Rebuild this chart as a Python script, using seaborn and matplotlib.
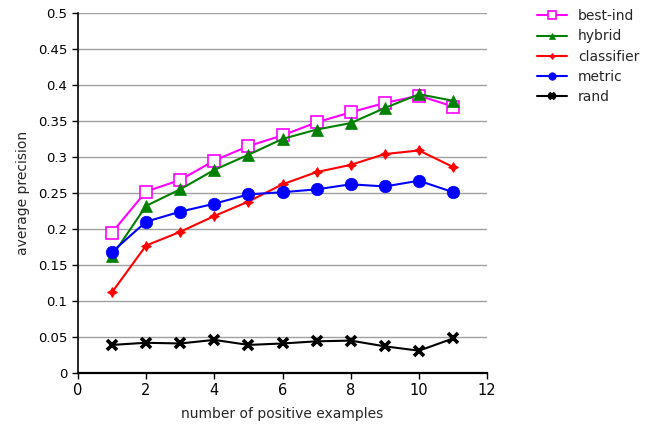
import pandas as pd
import matplotlib
matplotlib.use("Agg")
import matplotlib.pyplot as plt
import seaborn as sns

# Data
examples = [1, 2, 3, 4, 5, 6, 7, 8, 9, 10, 11]
best_ind = [0.195, 0.252, 0.268, 0.295, 0.315, 0.330, 0.348, 0.362, 0.375, 0.385, 0.370]
hybrid = [0.162, 0.232, 0.255, 0.282, 0.303, 0.325, 0.338, 0.347, 0.368, 0.387, 0.378]
classifier = [0.112, 0.177, 0.196, 0.218, 0.238, 0.262, 0.279, 0.289, 0.304, 0.309, 0.286]
metric = [0.168, 0.210, 0.224, 0.235, 0.248, 0.251, 0.255, 0.262, 0.259, 0.267, 0.251]
rand = [0.039, 0.042, 0.041, 0.046, 0.039, 0.041, 0.044, 0.045, 0.037, 0.031, 0.048]

series = {
    'best-ind': best_ind,
    'hybrid': hybrid,
    'classifier': classifier,
    'metric': metric,
    'rand': rand,
}
rows = []
for name, vals in series.items():
    for x, v in zip(examples, vals):
        rows.append({'examples': x, 'precision': v, 'method': name})
df = pd.DataFrame(rows)

sns.set_style('white')
plt.rcParams['font.family'] = ['DejaVu Sans']

fig = plt.figure(figsize=(6.54, 4.29), dpi=100)
ax = fig.add_axes([0.119, 0.1305, 0.626, 0.8395])

palette = {'best-ind': '#ff00ff', 'hybrid': '#008000', 'classifier': '#ff0000',
           'metric': '#0000ff', 'rand': '#000000'}
markers = {'best-ind': 's', 'hybrid': '^', 'classifier': (4, 1, 0),
           'metric': 'o', 'rand': 'x'}
sizes = {'best-ind': 9, 'hybrid': 8, 'classifier': 7, 'metric': 9, 'rand': 7}
edges = {'best-ind': 1.2, 'hybrid': 0.5, 'classifier': 0.8, 'metric': 0.5, 'rand': 2.6}

for name in series:
    sub = df[df['method'] == name]
    mfc = 'white' if name == 'best-ind' else palette[name]
    sns.lineplot(data=sub, x='examples', y='precision', ax=ax, color=palette[name],
                 marker=markers[name], markersize=sizes[name], markerfacecolor=mfc,
                 markeredgecolor=palette[name], markeredgewidth=edges[name],
                 linewidth=1.5, label=name)

ax.set_xlim(0, 12)
ax.set_ylim(0, 0.5)
ax.set_xticks(range(0, 13, 2))
ax.set_yticks([i * 0.05 for i in range(11)])
ax.set_yticklabels(['0', '0.05', '0.1', '0.15', '0.2', '0.25', '0.3', '0.35', '0.4', '0.45', '0.5'])
ax.yaxis.grid(True, color='#a0a0a0', linewidth=1)
ax.xaxis.grid(False)
ax.set_axisbelow(True)
for s in ['top', 'right']:
    ax.spines[s].set_visible(False)
for s in ['left', 'bottom']:
    ax.spines[s].set_color('black')
    ax.spines[s].set_linewidth(1.2)
ax.spines['bottom'].set_linewidth(1.6)
ax.tick_params(axis='both', direction='out', length=4, width=1, colors='black',
               labelsize=9.5, left=True, bottom=True)
ax.tick_params(axis='x', labelsize=10.5)
ax.set_xlabel('number of positive examples', fontsize=10, labelpad=6)
ax.set_ylabel('average precision', fontsize=10, labelpad=6)

ax.legend(loc='upper left', bbox_to_anchor=(1.09, 1.045), frameon=False,
          fontsize=10, handlelength=2.2, labelspacing=0.45, markerscale=0.6)

fig.savefig('out.png', dpi=100)
